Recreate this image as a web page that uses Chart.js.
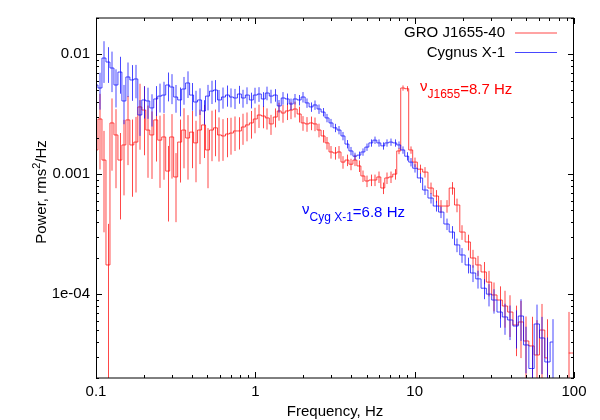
<!DOCTYPE html>
<html><head><meta charset="utf-8">
<script src="https://cdn.jsdelivr.net/npm/chart.js@4.4.1/dist/chart.umd.min.js"></script>
<style>html,body{margin:0;padding:0;background:#fff}</style>
</head><body>
<canvas id="c" width="600" height="420"></canvas>
<script>
// ---- data ----
const freqs = [0.1,0.1059,0.1122,0.1189,0.1259,0.1334,0.1413,0.1496,0.1585,0.1679,
0.1778,0.1884,0.1995,0.2113,0.2239,0.2371,0.2512,0.2661,0.2818,0.2985,
0.3162,0.335,0.3548,0.3758,0.3981,0.4217,0.4467,0.4732,0.5012,0.5309,
0.5623,0.5957,0.631,0.6683,0.7079,0.7499,0.7943,0.8414,0.8913,0.9441,
1.0,1.059,1.122,1.189,1.259,1.334,1.413,1.496,1.585,1.679,
1.778,1.884,1.995,2.113,2.239,2.371,2.512,2.661,2.818,2.985,
3.162,3.35,3.548,3.758,3.981,4.217,4.467,4.732,5.012,5.309,
5.623,5.957,6.31,6.683,7.079,7.499,7.943,8.414,8.913,9.441,
10,10.8,11.66,12.59,13.59,14.68,15.85,17.11,18.48,19.95,
21.54,23.26,25.12,27.12,29.29,31.62,34.15,36.87,39.81,42.99,
46.42,50.12,54.12,58.43,63.1,68.13,73.56,79.43,85.77,92.61,100];

const powJ1655 = [0.00159,0.00288,0.00131,0.000175,0.00267,0.00212,0.00131,0.00175,0.00283,0.00175,
0.00185,0.00363,0.00342,0.00233,0.00212,0.00283,0.00192,0.00204,0.00106,0.00204,
0.000947,0.00185,0.00233,0.00200,0.00224,0.00182,0.00233,0.00257,0.00159,0.00233,
0.00243,0.00212,0.00208,0.00216,0.00220,0.00229,0.00229,0.00247,0.00257,0.00267,
0.00288,0.00311,0.00305,0.00294,0.00262,0.00299,0.00336,0.00323,0.00336,0.00342,
0.00349,0.00317,0.00267,0.00262,0.00267,0.00262,0.00233,0.00208,0.00182,0.00153,
0.00150,0.00153,0.00126,0.00131,0.00121,0.00131,0.00117,0.000965,0.000876,0.000893,
0.000893,0.000947,0.000766,0.000929,0.000947,0.00100,0.00156,0.00522,0.00515,0.00159,
0.00126,0.00110,0.00104,0.000766,0.000657,0.000542,0.000542,0.000766,0.000553,0.000329,
0.000272,0.000200,0.000175,0.000153,0.000126,9.84e-5,8.93e-5,7.96e-5,7.09e-5,5.53e-5,
5.86e-5,4.07e-5,3.70e-5,3.11e-5,5.02e-5,2.94e-5,null,null,null,3.23e-5,3.23e-5];

const errJ1655 = [0.70,0.62,0.75,1.2,0.60,0.64,0.68,0.62,0.58,0.63,
0.62,0.56,0.58,0.60,0.57,0.55,0.60,0.56,0.62,0.55,
0.58,0.54,0.52,0.55,0.50,0.53,0.48,0.47,0.52,0.45,
0.42,0.40,0.38,0.36,0.34,0.32,0.30,0.29,0.27,0.26,
0.24,0.22,0.21,0.20,0.19,0.18,0.17,0.17,0.16,0.16,
0.15,0.15,0.14,0.14,0.13,0.13,0.13,0.12,0.12,0.12,
0.12,0.12,0.12,0.11,0.11,0.11,0.11,0.11,0.11,0.11,
0.11,0.11,0.11,0.11,0.11,0.10,0.06,0.05,0.05,0.07,
0.09,0.09,0.10,0.11,0.12,0.12,0.12,0.12,0.13,0.14,
0.15,0.17,0.19,0.21,0.24,0.27,0.30,0.34,0.38,0.45,
0.50,0.60,0.75,0.95,0.65,1.1,null,null,null,1.2,1.2];

const powCyg = [0.00553,0.00522,0.00928,0.00859,0.00766,0.00553,0.00709,0.00407,0.00645,0.00609,
0.00621,0.00311,0.00415,0.00407,0.00356,0.00423,0.00447,0.00456,0.00553,0.00532,
0.00439,0.00415,0.00512,0.00575,0.00456,0.00399,0.00415,0.00336,0.00447,0.00492,
0.00502,0.00415,0.00439,0.00456,0.00439,0.00431,0.00465,0.00431,0.00456,0.00415,
0.00456,0.00465,0.00423,0.00474,0.00447,0.00456,0.00370,0.00431,0.00423,0.00384,
0.00423,0.00415,0.00439,0.00392,0.00363,0.00377,0.00349,0.00329,0.00294,0.00267,
0.00243,0.00233,0.00208,0.00178,0.00156,0.00141,0.00144,0.00153,0.00168,0.00182,
0.00192,0.00182,0.00172,0.00182,0.00185,0.00182,0.00175,0.00159,0.00141,0.00126,
0.00112,0.000929,0.000737,0.000632,0.000542,0.000483,0.000384,0.000329,0.000257,0.000212,
0.000175,0.000150,0.000134,0.000112,0.000100,8.93e-5,7.09e-5,6.45e-5,6.09e-5,5.42e-5,
6.57e-5,3.77e-5,2.40e-5,5.64e-5,4.31e-5,2.72e-5,3.99e-5,null,null,null,null];

const errCyg = [0.36,0.34,0.38,0.33,0.37,0.35,0.34,0.36,0.32,0.33,
0.31,0.33,0.30,0.29,0.30,0.28,0.27,0.29,0.27,0.28,
0.26,0.27,0.26,0.25,0.26,0.24,0.25,0.23,0.24,0.22,
0.21,0.21,0.20,0.20,0.18,0.19,0.17,0.17,0.16,0.15,
0.15,0.14,0.14,0.13,0.13,0.12,0.12,0.12,0.11,0.11,
0.10,0.10,0.10,0.09,0.09,0.09,0.09,0.08,0.08,0.08,
0.08,0.08,0.08,0.08,0.08,0.07,0.07,0.07,0.07,0.07,
0.07,0.07,0.07,0.07,0.07,0.07,0.07,0.07,0.08,0.08,
0.08,0.09,0.09,0.10,0.10,0.11,0.11,0.12,0.13,0.14,
0.15,0.16,0.17,0.19,0.21,0.23,0.26,0.29,0.32,0.35,
0.38,0.42,0.55,0.45,0.50,0.60,0.55,null,null,null,null];

const seriesNames = ['GRO J1655-40', 'Cygnus X-1'];
const xMajorTicks = [0.1, 1, 10, 100];
const xTickLabels = ['0.1', '1', '10', '100'];
const yMajorTicks = [1e-4, 1e-3, 1e-2];
const yTickLabels = ['1e-04', '0.001', '0.01'];
const xTitle = 'Frequency, Hz';
const yTitle = ['Power, rms', '2', '/Hz'];
const noteJ1655 = ['\u03bd', 'J1655', '=8.7 Hz'];
const noteCyg = ['\u03bd', 'Cyg X-1', '=6.8 Hz'];

// ---- style ----
const FAM = '"Liberation Sans", Arial, Helvetica, sans-serif';
const RED = 'rgba(255,0,0,0.72)';
const BLUE = 'rgba(0,0,255,0.72)';

function pts(p) { return freqs.map((f, i) => ({ x: f, y: p[i] })); }

const decorPlugin = {
  id: 'decor',
  beforeDatasetDraw(chart, args) {
    const ds = chart.data.datasets[args.index];
    const xs = chart.scales.x, ys = chart.scales.y, ca = chart.chartArea, c = chart.ctx;
    c.save();
    c.beginPath(); c.rect(ca.left, ca.top, ca.right - ca.left, ca.bottom - ca.top); c.clip();
    c.strokeStyle = ds.borderColor; c.lineWidth = 1;
    ds.data.forEach((p, i) => {
      if (p.y == null || ds.errs[i] == null) return;
      const s = ds.errs[i] * p.y;
      const px = Math.round(xs.getPixelForValue(p.x)) + (i % 3 === 0 ? 0.5 : 0);
      const top = ys.getPixelForValue(p.y + s);
      const lo = p.y - s;
      const bot = lo > 0 ? ys.getPixelForValue(lo) : ca.bottom + 5;
      c.beginPath(); c.moveTo(px, top); c.lineTo(px, bot); c.stroke();
    });
    c.restore();
  },
  afterDraw(chart) {
    const xs = chart.scales.x, ys = chart.scales.y, ca = chart.chartArea, c = chart.ctx;
    c.save();
    // frame
    c.strokeStyle = '#000'; c.lineWidth = 1;
    c.beginPath();
    c.moveTo(ca.left + 0.5, ca.top); c.lineTo(ca.left + 0.5, ca.bottom);
    c.moveTo(ca.right - 0.5, ca.top); c.lineTo(ca.right - 0.5, ca.bottom);
    c.moveTo(ca.left, ca.top); c.lineTo(ca.right, ca.top);
    c.moveTo(ca.left, ca.bottom); c.lineTo(ca.right, ca.bottom);
    c.stroke();
    // ticks (inward, mirrored)
    c.beginPath();
    xMajorTicks.forEach((d, k) => {
      for (let m = 1; m <= 9; m++) {
        const v = d * m;
        if (v > 100.0001 || (k === xMajorTicks.length - 1 && m > 1)) continue;
        const px = Math.round(xs.getPixelForValue(v)) + 0.5;
        const len = m === 1 ? 6 : 3;
        c.moveTo(px, ca.bottom); c.lineTo(px, ca.bottom - len);
        c.moveTo(px, ca.top); c.lineTo(px, ca.top + len);
      }
    });
    [1e-5].concat(yMajorTicks).forEach((d) => {
      for (let m = 1; m <= 9; m++) {
        const v = d * m;
        if (v < 1.99e-5 || v > 0.02001) continue;
        const py = Math.round(ys.getPixelForValue(v)) + 0.5;
        const len = m === 1 ? 6 : 3;
        c.moveTo(ca.left, py); c.lineTo(ca.left + len, py);
        c.moveTo(ca.right, py); c.lineTo(ca.right - len, py);
      }
    });
    c.stroke();

    // axis titles
    c.fillStyle = '#000';
    c.font = '15px ' + FAM;
    c.textBaseline = 'alphabetic';
    c.textAlign = 'center';
    c.fillText(xTitle, (ca.left + ca.right) / 2, 416);
    c.save();
    c.translate(46, 192);
    c.rotate(-Math.PI / 2);
    c.textAlign = 'left';
    c.font = '15px ' + FAM;
    const w0 = c.measureText(yTitle[0]).width;
    c.font = '11px ' + FAM;
    const w1 = c.measureText(yTitle[1]).width;
    c.font = '15px ' + FAM;
    const w2 = c.measureText(yTitle[2]).width;
    let sx = -(w0 + w1 + w2) / 2;
    c.fillText(yTitle[0], sx, 0);
    c.font = '11px ' + FAM; c.fillText(yTitle[1], sx + w0, -6);
    c.font = '15px ' + FAM; c.fillText(yTitle[2], sx + w0 + w1, 0);
    c.restore();

    // legend
    c.textAlign = 'right'; c.textBaseline = 'middle';
    c.font = '15px ' + FAM;
    c.fillStyle = '#000';
    c.fillText(seriesNames[0], 505, 33);
    c.fillText(seriesNames[1], 505, 53);
    c.lineWidth = 1;
    c.strokeStyle = RED; c.beginPath(); c.moveTo(515, 33); c.lineTo(557, 33); c.stroke();
    c.strokeStyle = BLUE; c.beginPath(); c.moveTo(515, 52.5); c.lineTo(557, 52.5); c.stroke();

    // annotations
    function note(parts, x, base, color) {
      c.textAlign = 'left'; c.textBaseline = 'alphabetic'; c.fillStyle = color;
      c.font = '15px ' + FAM;
      c.fillText(parts[0], x, base - 3);
      x += c.measureText(parts[0]).width;
      c.font = '12px ' + FAM;
      c.fillText(parts[1], x, base + 4);
      x += c.measureText(parts[1]).width;
      c.font = '15px ' + FAM;
      c.fillText(parts[2], x, base);
    }
    note(noteJ1655, 420, 94, '#ff0000');
    note(noteCyg, 302, 217, '#0000ff');
    c.restore();
  }
};

new Chart(document.getElementById('c'), {
  type: 'line',
  data: {
    datasets: [
      { label: seriesNames[0], data: pts(powJ1655), errs: errJ1655, borderColor: RED,
        borderWidth: 1, pointRadius: 0, stepped: 'middle', spanGaps: false, order: 1, fill: false },
      { label: seriesNames[1], data: pts(powCyg), errs: errCyg, borderColor: BLUE,
        borderWidth: 1, pointRadius: 0, stepped: 'middle', spanGaps: false, order: 0, fill: false }
    ]
  },
  options: {
    responsive: false, animation: false, devicePixelRatio: 1,
    layout: { padding: { top: 18, right: 26, left: 0, bottom: 0 } },
    plugins: { legend: { display: false }, tooltip: { enabled: false } },
    scales: {
      x: {
        type: 'logarithmic', min: 0.1, max: 100,
        afterBuildTicks: s => { s.ticks = xMajorTicks.map(v => ({ value: v })); },
        afterFit: s => { s.height = 42; },
        ticks: { callback: (v, i) => xTickLabels[i], autoSkip: false, maxRotation: 0, minRotation: 0,
                 padding: 5, color: '#000', font: { family: FAM, size: 15 } },
        grid: { display: false, drawTicks: false }, border: { display: false }
      },
      y: {
        type: 'logarithmic', min: 2e-5, max: 0.02,
        afterBuildTicks: s => { s.ticks = yMajorTicks.map(v => ({ value: v })); },
        afterFit: s => { s.width = 96; },
        ticks: { callback: (v, i) => yTickLabels[i], autoSkip: false, padding: 6,
                 color: '#000', font: { family: FAM, size: 15 } },
        grid: { display: false, drawTicks: false }, border: { display: false }
      }
    }
  },
  plugins: [decorPlugin]
});
</script>
</body></html>
